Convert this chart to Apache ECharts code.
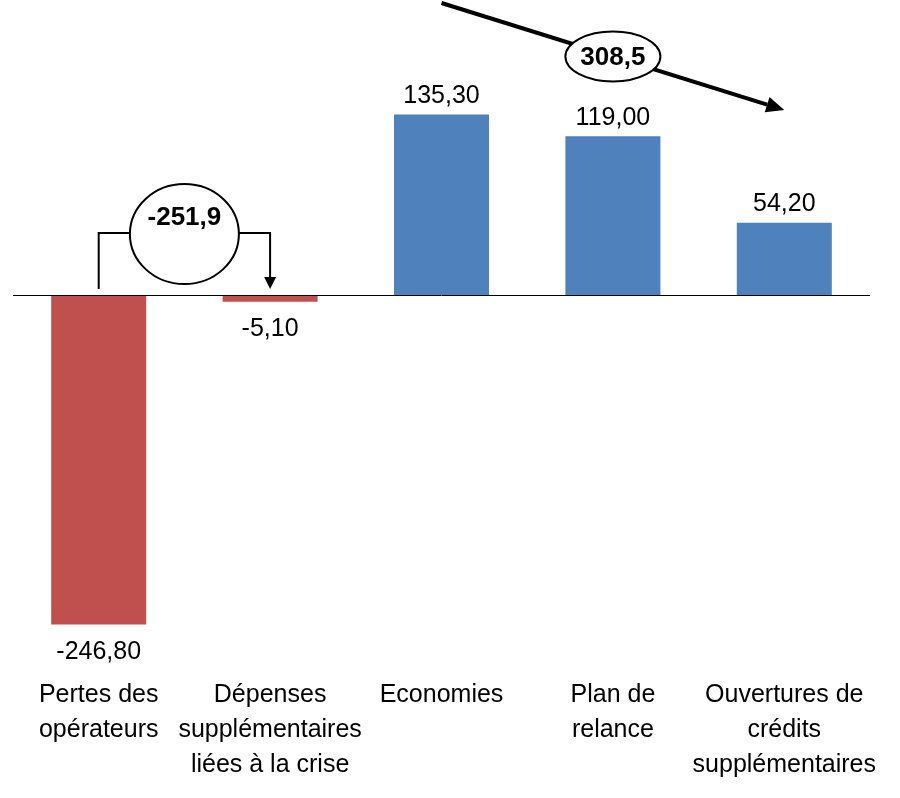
<!DOCTYPE html>
<html>
<head>
<meta charset="utf-8">
<script src="https://cdn.jsdelivr.net/npm/echarts@6/dist/echarts.min.js"></script>
<style>
html,body{margin:0;padding:0;background:#fff;}
#chart{width:900px;height:798px;}
</style>
</head>
<body>
<div id="chart"></div>
<script>
const categories = [
  'Pertes des\nopérateurs',
  'Dépenses\nsupplémentaires\nliées à la crise',
  'Economies',
  'Plan de\nrelance',
  'Ouvertures de\ncrédits\nsupplémentaires'
];
const values = [-246.8, -5.1, 135.3, 119.0, 54.2];
const bracketTotal = '-251,9';
const arrowTotal = '308,5';

const FONT = '"Liberation Sans", Arial, sans-serif';
const chart = echarts.init(document.getElementById('chart'));

chart.setOption({
  animation: false,
  backgroundColor: '#fff',
  grid: { left: 13, right: 30, top: 28, bottom: 169.2, containLabel: false },
  xAxis: {
    type: 'category',
    data: categories,
    position: 'bottom',
    axisLine: { show: false, onZero: false },
    axisTick: { show: false },
    axisLabel: {
      interval: 0,
      margin: 49,
      color: '#000',
      fontFamily: FONT,
      fontSize: 25,
      lineHeight: 35,
      align: 'center'
    }
  },
  yAxis: {
    type: 'value',
    min: -250,
    max: 200,
    show: false,
    splitLine: { show: false }
  },
  series: [{
    type: 'bar',
    data: values.map(v => v < 0 ? { value: v, label: { position: 'bottom', distance: 15 } } : v),
    barWidth: 95,
    itemStyle: {
      color: p => (p.value < 0 ? '#C0504D' : '#4F81BD')
    },
    label: {
      show: true,
      position: 'top',
      distance: 6,
      color: '#000',
      fontFamily: FONT,
      fontSize: 25,
      formatter: p => p.value.toFixed(2).replace('.', ',')
    },
    markLine: {
      silent: true,
      symbol: 'none',
      label: { show: false },
      lineStyle: { color: '#000', width: 1, type: 'solid' },
      data: [{ yAxis: 0 }]
    }
  }]
});

// annotations positioned from the axes
const xp = i => chart.convertToPixel({ xAxisIndex: 0 }, categories[i]);
const yp = v => chart.convertToPixel({ yAxisIndex: 0 }, v);
const y0 = yp(0);
const x1 = xp(0), x2 = xp(1);
const cx = (x1 + x2) / 2;
const by = y0 - 62;        // bracket horizontal level
const rx = 54.5, ry = 50;
const ecy = y0 - 61;

// diagonal arrow
const ax1 = xp(2), ay1 = y0 - 292;
const ax2 = xp(4), ay2 = y0 - 185;
const dx = ax2 - ax1, dy = ay2 - ay1;
const len = Math.sqrt(dx * dx + dy * dy);
const ux = dx / len, uy = dy / len;
const headL = 18, headW = 8;
const bx = ax2 - ux * headL, byy = ay2 - uy * headL;
const ex = xp(3);
const ey = ay1 + (ex - ax1) * dy / dx;

chart.setOption({
  graphic: [
    { type: 'polyline', shape: { points: [[x1, y0 - 6], [x1, by], [cx - rx, by]] },
      style: { stroke: '#000', lineWidth: 2, fill: null } },
    { type: 'polyline', shape: { points: [[cx + rx, by], [x2, by], [x2, y0 - 16]] },
      style: { stroke: '#000', lineWidth: 2, fill: null } },
    { type: 'polygon', shape: { points: [[x2 - 6, y0 - 18], [x2 + 6, y0 - 18], [x2, y0 - 6]] },
      style: { fill: '#000' } },
    { type: 'ellipse', shape: { cx: cx, cy: ecy, rx: rx, ry: ry },
      style: { fill: '#fff', stroke: '#000', lineWidth: 2 } },
    { type: 'text', x: cx, y: ecy - 16,
      style: { text: bracketTotal, fill: '#000', font: 'bold 26px ' + FONT, align: 'center', verticalAlign: 'middle' } },

    { type: 'line', shape: { x1: ax1, y1: ay1, x2: bx, y2: byy },
      style: { stroke: '#000', lineWidth: 4 } },
    { type: 'polygon', shape: { points: [
        [ax2, ay2],
        [bx - uy * headW, byy + ux * headW],
        [bx + uy * headW, byy - ux * headW]
      ] }, style: { fill: '#000' } },
    { type: 'ellipse', shape: { cx: ex, cy: ey, rx: 47.5, ry: 25 },
      style: { fill: '#fff', stroke: '#000', lineWidth: 2 } },
    { type: 'text', x: ex, y: ey + 1,
      style: { text: arrowTotal, fill: '#000', font: 'bold 26px ' + FONT, align: 'center', verticalAlign: 'middle' } }
  ]
});
</script>
</body>
</html>
